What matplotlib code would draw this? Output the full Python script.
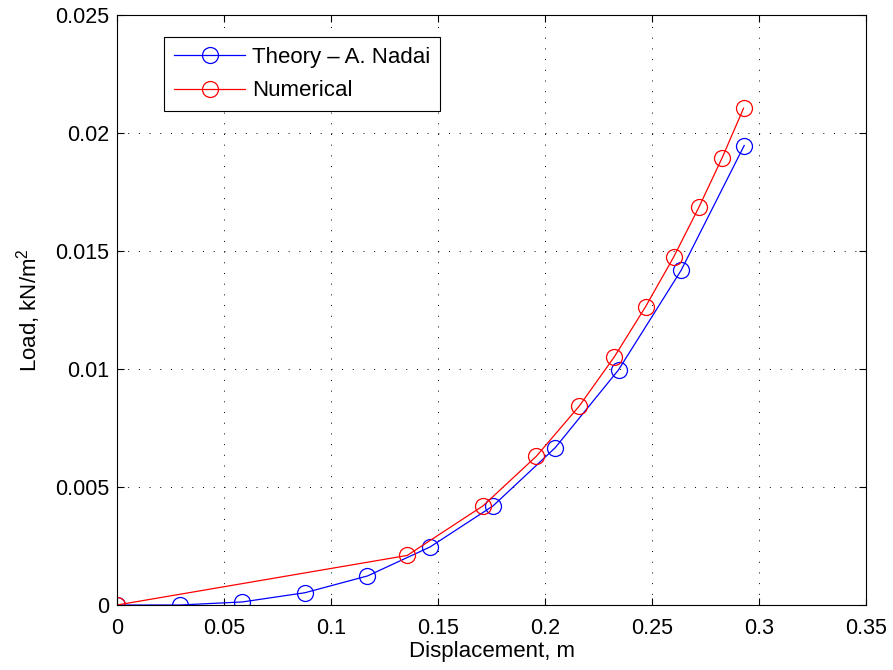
import matplotlib
matplotlib.use('Agg')
import matplotlib.pyplot as plt
from matplotlib.ticker import FuncFormatter

plt.rcParams['font.family'] = ['Liberation Sans', 'DejaVu Sans']
plt.rcParams['mathtext.fontset'] = 'custom'
plt.rcParams['mathtext.rm'] = 'Liberation Sans'
plt.rcParams['mathtext.it'] = 'Liberation Sans'

# Theory - A. Nadai
theory_disp = [0.0, 0.0293, 0.0586, 0.0878, 0.1170, 0.1463, 0.1757, 0.2047, 0.2343, 0.2635, 0.2930]
theory_load = [0.0, 0.0, 0.00013, 0.00052, 0.00123, 0.00246, 0.0042, 0.00666, 0.00996, 0.01417, 0.01946]

# Numerical
num_disp = [0.0, 0.1356, 0.1710, 0.1959, 0.2159, 0.2324, 0.2469, 0.2600, 0.2718, 0.2827, 0.2927]
num_load = [0.0, 0.0021, 0.0042, 0.0063, 0.00842, 0.01052, 0.01263, 0.01473, 0.01684, 0.01894, 0.02104]

fig = plt.figure(figsize=(8.93, 6.70), dpi=100)
ax = fig.add_axes([0.131, 0.097, 0.839, 0.881])

ax.plot(theory_disp, theory_load, color='#0000ff', lw=0.9, marker='o', ms=11.5,
        mfc='none', mec='#0000ff', mew=0.9, label='Theory \u2013 A. Nadai')
ax.plot(num_disp, num_load, color='#ff0000', lw=0.9, marker='o', ms=11.5,
        mfc='none', mec='#ff0000', mew=0.9, label='Numerical')

ax.set_xlim(0, 0.35)
ax.set_ylim(0, 0.025)
ax.set_xticks([0, 0.05, 0.1, 0.15, 0.2, 0.25, 0.3, 0.35])
ax.set_yticks([0, 0.005, 0.01, 0.015, 0.02, 0.025])
fmt = FuncFormatter(lambda v, p: '%g' % round(v, 4))
ax.xaxis.set_major_formatter(fmt)
ax.yaxis.set_major_formatter(fmt)
ax.tick_params(direction='in', top=True, right=True, labelsize=15.5, length=5, width=0.8)
ax.tick_params(axis='x', pad=9)
ax.tick_params(axis='y', pad=5.5)
ax.grid(True, color='black', linestyle=(0, (1, 10)), linewidth=0.7)
for s in ax.spines.values():
    s.set_linewidth(0.8)

ax.set_xlabel('Displacement, m', fontsize=16, labelpad=2)
ax.set_ylabel('Load, kN/m$^2$', fontsize=16, labelpad=9)

leg = ax.legend(loc='upper left', bbox_to_anchor=(0.063, 0.962), fontsize=16,
                fancybox=False, edgecolor='black', framealpha=1, handlelength=3.2,
                handletextpad=0.3, borderpad=0.45, labelspacing=0.55, borderaxespad=0)
leg.get_frame().set_linewidth(0.8)

fig.savefig('out.png', dpi=100)
